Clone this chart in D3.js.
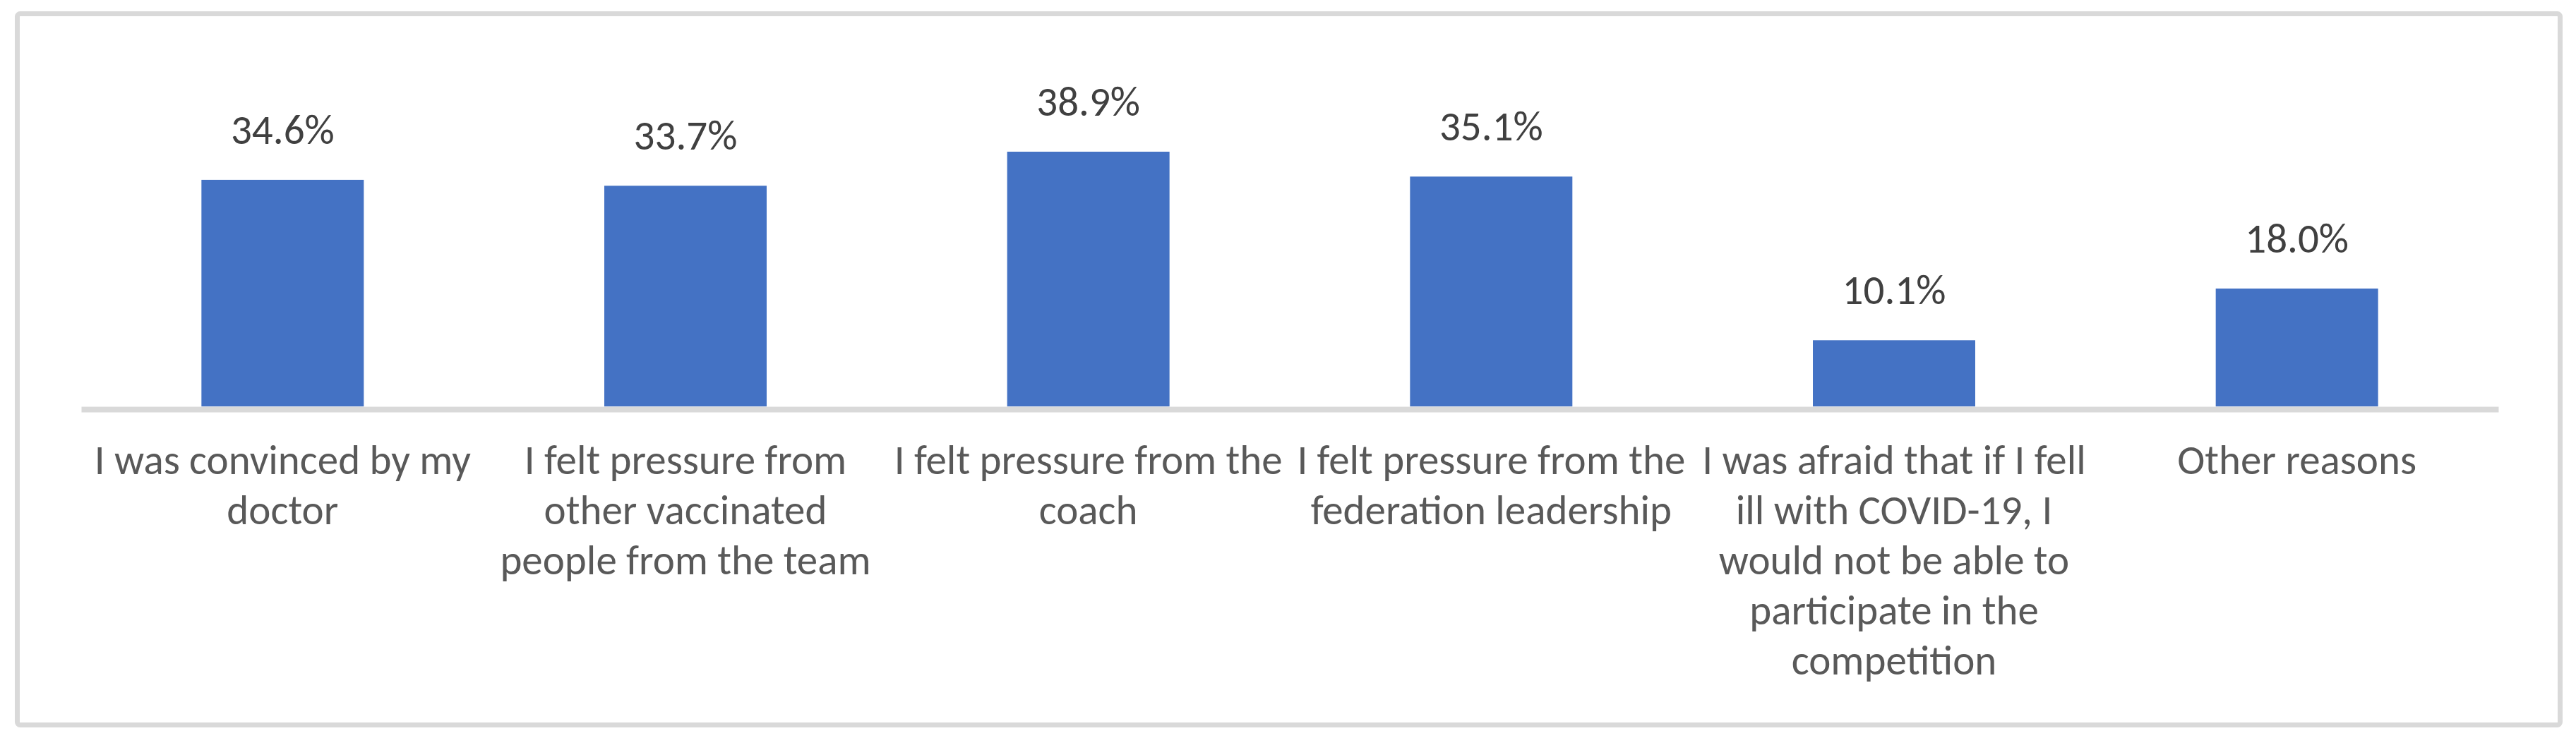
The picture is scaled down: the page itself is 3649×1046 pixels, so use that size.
<!DOCTYPE html>
<html>
<head>
<meta charset="utf-8">
<script src="https://cdn.jsdelivr.net/npm/d3@7"></script>
<style>
  body { margin: 0; background: #fff; }
  svg text { font-family: Carlito, "Liberation Sans Narrow", "Open Sans", sans-serif; }
</style>
</head>
<body>
<div id="chart"></div>
<script>
// reasons for getting vaccinated, share of respondents (%)
var categories = [
    "I was convinced by my doctor",
    "I felt pressure from other vaccinated people from the team",
    "I felt pressure from the coach",
    "I felt pressure from the federation leadership",
    "I was afraid that if I fell ill with COVID-19, I would not be able to participate in the competition",
    "Other reasons"
];
var values = [34.6, 33.7, 38.9, 35.1, 10.1, 18.0];
// line breaks as in the original figure
var labelLines = [
    ["I was convinced by my", "doctor"],
    ["I felt pressure from", "other vaccinated", "people from the team"],
    ["I felt pressure from the", "coach"],
    ["I felt pressure from the", "federation leadership"],
    ["I was afraid that if I fell", "ill with COVID-19, I", "would not be able to", "participate in the", "competition"],
    ["Other reasons"]
];

var W = 3649, H = 1046;
var base = 576;
var fontSize = 59;
var lineGap = 71;

var svg = d3.select("#chart")
    .append("svg")
    .attr("width", W)
    .attr("height", H);

// chart frame
svg.append("rect")
    .attr("x", 24.5)
    .attr("y", 19.5)
    .attr("width", 3602)
    .attr("height", 1008)
    .attr("rx", 4)
    .style("fill", "white")
    .style("stroke", "#d9d9d9")
    .style("stroke-width", 7);

var x = d3.scaleBand()
    .domain(categories)
    .range([115, 3539])
    .paddingInner(0.597)
    .paddingOuter(0.2985);

var y = d3.scaleLinear()
    .domain([0, 45])
    .range([base, base - 45 * 9.28]);

svg.selectAll(".bar")
    .data(values)
    .enter()
    .append("rect")
    .attr("class", "bar")
    .attr("x", function(d, i) { return x(categories[i]); })
    .attr("y", function(d) { return y(d); })
    .attr("width", x.bandwidth())
    .attr("height", function(d) { return y(0) - y(d); })
    .style("fill", "#4472c4");

svg.selectAll(".val")
    .data(values)
    .enter()
    .append("text")
    .attr("class", "val")
    .attr("x", function(d, i) { return x(categories[i]) + x.bandwidth() / 2; })
    .attr("y", function(d) { return y(d) - 51; })
    .attr("text-anchor", "middle")
    .style("font-size", fontSize + "px")
    .style("fill", "#404040")
    .text(function(d) { return d.toFixed(1) + "%"; });

var axis = svg.append("g")
    .attr("transform", "translate(0," + (base + 4) + ")")
    .call(d3.axisBottom(x).tickSize(0).tickSizeOuter(0));

axis.select(".domain")
    .attr("stroke", "#d9d9d9")
    .attr("stroke-width", 8);

axis.selectAll(".tick text").each(function(d, i) {
    var t = d3.select(this);
    t.text(null)
        .attr("y", 0)
        .attr("dy", null)
        .attr("fill", "#595959")
        .style("font-size", fontSize + "px")
        .style("font-family", null);
    labelLines[i].forEach(function(line, k) {
        t.append("tspan")
            .attr("x", 0)
            .attr("y", 92 + k * lineGap)
            .text(line);
    });
});
</script>
</body>
</html>
